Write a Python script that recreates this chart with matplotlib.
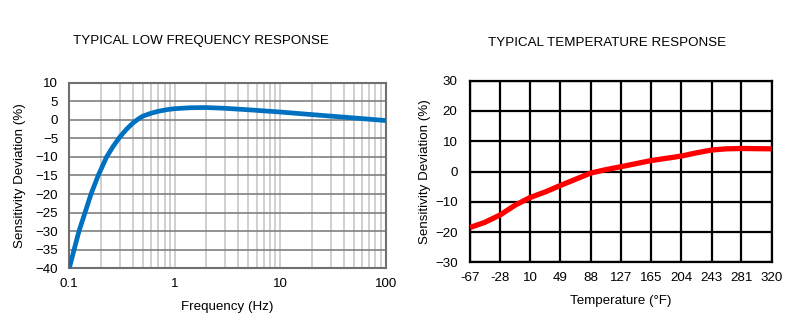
import numpy as np
import matplotlib.pyplot as plt
from matplotlib.ticker import FixedLocator, NullFormatter

plt.rcParams['font.family'] = ['Liberation Sans', 'DejaVu Sans']

# Low frequency response
freq_hz = [0.1, 0.111, 0.1236, 0.141, 0.1607, 0.188, 0.226, 0.26, 0.3, 0.35,
           0.4, 0.45, 0.5, 0.6, 0.7, 0.85, 1.0, 1.4, 2.0, 3.0,
           5.0, 10, 20, 30, 50, 100]
freq_dev = [-40, -35, -30, -25, -20, -15, -10, -7.2, -4.7, -2.5,
            -0.9, 0.2, 1.0, 1.8, 2.3, 2.75, 3.0, 3.25, 3.3, 3.1,
            2.7, 2.1, 1.4, 1.0, 0.5, -0.2]

# Temperature response
temp_f = [-67, -48, -28, -9, 10, 30, 49, 68, 88, 107,
          127, 165, 204, 224, 243, 262, 281, 320]
temp_dev = [-18.5, -16.8, -14.3, -11.1, -8.6, -6.7, -4.6, -2.6, -0.5, 0.6,
            1.6, 3.6, 5.1, 6.2, 7.1, 7.5, 7.6, 7.5]
temp_ticks = [-67, -28, 10, 49, 88, 127, 165, 204, 243, 281, 320]

fs = 9.6
fig = plt.figure(figsize=(8, 3.24), dpi=100)

# left chart
ax1 = fig.add_axes([0.0866, 0.1719, 0.3955, 0.5729])
ax1.set_xscale('log')
ax1.plot(freq_hz, freq_dev, color='#0070c0', lw=3.4, solid_capstyle='butt',
         solid_joinstyle='round', zorder=3)
ax1.set_xlim(0.1, 100)
ax1.set_ylim(-40, 10)
ax1.set_yticks(np.arange(-40, 11, 5))
ax1.set_xticks([0.1, 1, 10, 100])
ax1.set_xticklabels(['0.1', '1', '10', '100'])
minor = [m * d for d in [0.1, 1, 10] for m in range(2, 10)]
ax1.xaxis.set_minor_locator(FixedLocator(minor))
ax1.xaxis.set_minor_formatter(NullFormatter())
ax1.grid(True, axis='x', which='both', color='#c8c8c8', lw=1.2, zorder=0)
ax1.grid(True, axis='y', which='major', color='#808080', lw=1.2, zorder=1)
ax1.tick_params(which='both', length=0, labelsize=fs)
ax1.tick_params(axis='y', pad=8)
ax1.tick_params(axis='x', pad=7)
for s in ax1.spines.values():
    s.set_color('#707070')
    s.set_linewidth(1.5)
ax1.set_xlabel('Frequency (Hz)', fontsize=fs, labelpad=8)
ax1.set_ylabel('Sensitivity Deviation (%)', fontsize=fs, labelpad=7)
fig.text(0.251, 1 - 41 / 324, 'TYPICAL LOW FREQUENCY RESPONSE', ha='center', va='center', fontsize=fs)

# right chart
ax2 = fig.add_axes([0.5875, 0.1904, 0.3771, 0.5605])
ax2.plot(temp_f, temp_dev, color='#ff0000', lw=3.8, solid_capstyle='butt',
         solid_joinstyle='round', zorder=3)
ax2.set_xlim(-67, 320)
ax2.set_ylim(-30, 30)
ax2.set_yticks(np.arange(-30, 31, 10))
ax2.set_xticks(temp_ticks)
ax2.set_xticklabels([str(t) for t in temp_ticks])
ax2.grid(True, color='black', lw=1.6, zorder=1)
ax2.tick_params(length=0, labelsize=fs)
ax2.tick_params(axis='y', pad=9)
ax2.tick_params(axis='x', pad=7)
for s in ax2.spines.values():
    s.set_color('black')
    s.set_linewidth(1.6)
ax2.set_xlabel('Temperature (°F)', fontsize=fs, labelpad=8)
ax2.set_ylabel('Sensitivity Deviation (%)', fontsize=fs, labelpad=3)
fig.text(0.759, 1 - 43 / 324, 'TYPICAL TEMPERATURE RESPONSE', ha='center', va='center', fontsize=fs)

fig.savefig('out.png', dpi=100)
